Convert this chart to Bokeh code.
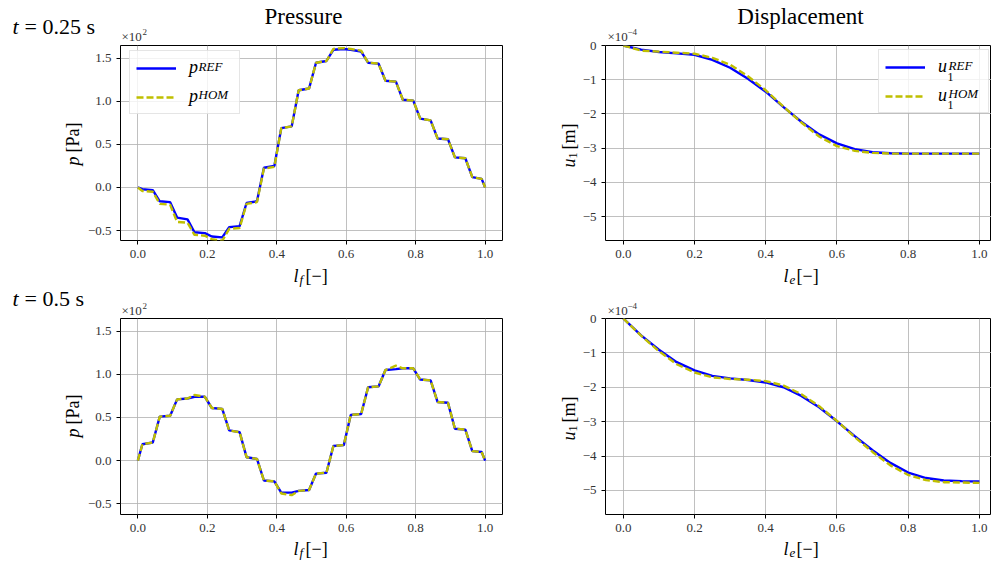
from bokeh.plotting import figure
from bokeh.models import Range1d, FixedTicker, Legend, LegendItem, GridBox
from bokeh.core.properties import value
from bokeh.embed import file_html
from bokeh.resources import INLINE
import math

SERIF = "Liberation Serif"
BLUE = "#0000ff"
YELLOW = "#bfbf00"
W, H = 991, 562

# ---------------- data ----------------
# pressure curves, value axis in units of 10^2 Pa
lf_points = [0.0, 0.013, 0.043, 0.063, 0.093, 0.113, 0.143, 0.163, 0.193, 0.213,
             0.243, 0.263, 0.293, 0.313, 0.343, 0.363, 0.393, 0.413, 0.443, 0.463,
             0.493, 0.513, 0.543, 0.563, 0.593, 0.613, 0.643, 0.663, 0.693, 0.713,
             0.743, 0.763, 0.793, 0.813, 0.843, 0.863, 0.893, 0.913, 0.943, 0.963,
             0.990, 1.0]
p_ref_t025 = [0.0, -0.02, -0.03, -0.16, -0.17, -0.35, -0.37, -0.52, -0.53, -0.57,
              -0.58, -0.46, -0.45, -0.18, -0.16, 0.23, 0.25, 0.69, 0.71, 1.13,
              1.15, 1.45, 1.47, 1.60, 1.61, 1.60, 1.58, 1.45, 1.44, 1.24,
              1.23, 1.02, 1.01, 0.80, 0.78, 0.57, 0.56, 0.35, 0.34, 0.12,
              0.10, 0.0]
p_hom_t025 = [0.0, -0.04, -0.05, -0.19, -0.20, -0.40, -0.41, -0.55, -0.56, -0.60,
              -0.62, -0.48, -0.47, -0.19, -0.17, 0.22, 0.24, 0.69, 0.71, 1.13,
              1.15, 1.45, 1.47, 1.61, 1.62, 1.61, 1.59, 1.45, 1.44, 1.24,
              1.23, 1.02, 1.01, 0.80, 0.78, 0.57, 0.56, 0.35, 0.34, 0.12,
              0.10, 0.0]
p_ref_t05 = [0.0, 0.19, 0.21, 0.51, 0.52, 0.71, 0.72, 0.74, 0.74, 0.61,
             0.60, 0.35, 0.33, 0.04, 0.02, -0.23, -0.24, -0.37, -0.37, -0.35,
             -0.34, -0.15, -0.14, 0.17, 0.18, 0.53, 0.54, 0.85, 0.86, 1.05,
             1.06, 1.07, 1.07, 0.94, 0.93, 0.68, 0.67, 0.37, 0.36, 0.11,
             0.10, 0.0]
p_hom_t05 = [0.0, 0.19, 0.21, 0.51, 0.52, 0.71, 0.72, 0.76, 0.74, 0.61,
             0.60, 0.35, 0.33, 0.04, 0.02, -0.23, -0.24, -0.38, -0.40, -0.35,
             -0.34, -0.15, -0.14, 0.17, 0.18, 0.53, 0.54, 0.85, 0.86, 1.05,
             1.10, 1.07, 1.07, 0.94, 0.93, 0.68, 0.67, 0.37, 0.36, 0.11,
             0.10, 0.0]

# displacement curves, value axis in units of 10^-4 m
le_points = [0.0, 0.05, 0.10, 0.15, 0.20, 0.25, 0.30, 0.35, 0.40, 0.45, 0.50,
             0.55, 0.60, 0.65, 0.70, 0.75, 0.80, 0.85, 0.90, 0.95, 1.0]
u_ref_t025 = [0.0, -0.12, -0.19, -0.23, -0.27, -0.42, -0.65, -0.97, -1.35, -1.80,
              -2.23, -2.60, -2.86, -3.03, -3.12, -3.15, -3.16, -3.16, -3.16, -3.16, -3.16]
u_hom_t025 = [0.0, -0.15, -0.18, -0.21, -0.24, -0.36, -0.56, -0.90, -1.31, -1.79,
              -2.25, -2.66, -2.94, -3.08, -3.14, -3.16, -3.16, -3.16, -3.16, -3.16, -3.16]
u_ref_t05 = [0.0, -0.49, -0.91, -1.27, -1.51, -1.67, -1.74, -1.79, -1.86, -2.00,
             -2.25, -2.58, -2.99, -3.42, -3.83, -4.20, -4.48, -4.64, -4.71, -4.73, -4.74]
u_hom_t05 = [0.0, -0.50, -0.95, -1.33, -1.57, -1.71, -1.76, -1.78, -1.82, -1.95,
             -2.20, -2.55, -2.98, -3.45, -3.88, -4.27, -4.55, -4.70, -4.76, -4.77, -4.78]

x_ticks = [0.0, 0.2, 0.4, 0.6, 0.8, 1.0]
x_tick_labels = ["0.0", "0.2", "0.4", "0.6", "0.8", "1.0"]
p_ticks = [-0.5, 0.0, 0.5, 1.0, 1.5]
p_tick_labels = ["\u22120.5", "0.0", "0.5", "1.0", "1.5"]
u_ticks = [-5.0, -4.0, -3.0, -2.0, -1.0, 0.0]
u_tick_labels = ["\u22125", "\u22124", "\u22123", "\u22122", "\u22121", "0"]


def make_fig(w, h, bl, br, bt, bb, xr, yr, yticks, ylabels):
    f = figure(width=w, height=h, x_range=Range1d(*xr), y_range=Range1d(*yr),
               output_backend="svg", toolbar_location=None,
               min_border_left=bl, min_border_right=br,
               min_border_top=bt, min_border_bottom=bb)
    f.background_fill_color = "white"
    f.border_fill_color = "white"
    f.outline_line_color = "black"
    f.outline_line_width = 1
    f.xaxis.ticker = FixedTicker(ticks=x_ticks)
    f.xgrid.ticker = FixedTicker(ticks=x_ticks)
    f.xaxis.major_label_overrides = dict(zip(x_ticks, x_tick_labels))
    f.yaxis.ticker = FixedTicker(ticks=yticks)
    f.ygrid.ticker = FixedTicker(ticks=yticks)
    f.yaxis.major_label_overrides = dict(zip(yticks, ylabels))
    for ax in (f.xaxis[0], f.yaxis[0]):
        ax.axis_line_color = None
        ax.major_tick_line_color = "black"
        ax.major_tick_out = 4
        ax.major_tick_in = 0
        ax.minor_tick_line_color = None
        ax.major_label_text_font = SERIF
        ax.major_label_text_font_size = "13px"
        ax.major_label_text_color = "#333333"
        ax.major_label_standoff = 5
    for g in (f.xgrid[0], f.ygrid[0]):
        g.grid_line_color = "#b0b0b0"
        g.grid_line_alpha = 0.8
        g.grid_line_width = 1
    return f


def add_legend(f, loc, label, label_width):
    items = [LegendItem(label=label, renderers=[f.renderers[0]]),
             LegendItem(label=label, renderers=[f.renderers[1]])]
    leg = Legend(items=items, location=loc, glyph_width=40, glyph_height=20,
                 label_width=label_width, label_height=20, label_standoff=13,
                 padding=6, spacing=8, margin=0,
                 border_line_color="#cccccc", border_line_width=1,
                 background_fill_color="white", background_fill_alpha=0.8,
                 label_text_font=SERIF, label_text_font_style="italic",
                 label_text_font_size="18px", label_text_color="black")
    f.add_layout(leg)


# ---------------- plot panels ----------------
tl = make_fig(520, 280, 120, 18, 44, 40, (-0.05, 1.05), (-0.616, 1.65), p_ticks, p_tick_labels)
tr = make_fig(471, 280, 85, 0, 45, 39, (-0.05, 1.034), (-5.7, 0.0), u_ticks, u_tick_labels)
bl = make_fig(520, 282, 120, 18, 38, 48, (-0.05, 1.05), (-0.624, 1.647), p_ticks, p_tick_labels)
br = make_fig(471, 282, 85, 0, 38, 48, (-0.05, 1.034), (-5.7, 0.0), u_ticks, u_tick_labels)

for f, xs, yr, yh in ((tl, lf_points, p_ref_t025, p_hom_t025),
                      (bl, lf_points, p_ref_t05, p_hom_t05),
                      (tr, le_points, u_ref_t025, u_hom_t025),
                      (br, le_points, u_ref_t05, u_hom_t05)):
    f.line(xs, yr, line_color=BLUE, line_width=2.4)
    f.line(xs, yh, line_color=YELLOW, line_width=2.4, line_dash="7 3")

add_legend(tl, (9, 126), "p", 44)
add_legend(tr, (273, 127), "u", 44)

# ---------------- transparent text layer over the whole page ----------------
ov = figure(width=W, height=H, x_range=Range1d(0, W), y_range=Range1d(0, H),
            output_backend="svg", toolbar_location=None,
            x_axis_location=None, y_axis_location=None,
            min_border=0, min_border_left=0, min_border_right=0,
            min_border_top=0, min_border_bottom=0)
ov.frame_align = False
ov.outline_line_color = None
ov.background_fill_alpha = 0
ov.border_fill_alpha = 0
ov.xgrid.visible = False
ov.ygrid.visible = False

SHIFT = 5  # baseline correction of the svg text placement


def txt(x, y, s, size, style="normal", rot=False, align="left", color="black"):
    if rot:
        x = x - SHIFT
    else:
        y = y - SHIFT
    ov.text(x=[x], y=[H - y], text=[s], angle=(math.pi / 2 if rot else 0.0),
            text_font=value(SERIF), text_font_size=value(f"{size}px"),
            text_font_style=style, text_align=align,
            text_baseline="alphabetic", text_color=color)


OFF = "#333333"
# titles and time labels
txt(303, 21, "Pressure", 23, align="center")
txt(800, 21, "Displacement", 23, align="center")
txt(12, 31, "t", 22, style="italic")
txt(24, 31, "= 0.25 s", 22)
txt(12, 303, "t", 22, style="italic")
txt(24, 303, "= 0.5 s", 22)
# offset texts
for yb in (41, 315):
    txt(121, yb, "\u00d710", 13, color=OFF)
    txt(142, yb - 5, "2", 9, color=OFF)
    txt(607, yb, "\u00d710", 13, color=OFF)
    txt(627, yb - 5, "\u22124", 9, color=OFF)
# y axis labels
for yc in (145, 417):
    txt(77, yc + 20, "p", 18, style="italic", rot=True)
    txt(77, yc + 7, "[Pa]", 18, rot=True)
for yc in (146, 419):
    txt(573, yc + 21, "u", 18, style="italic", rot=True)
    txt(577, yc + 12, "1", 12, rot=True)
    txt(573, yc + 3, "[m]", 18, rot=True)
# x axis labels
for yb in (280, 553):
    txt(293, yb, "l", 18, style="italic")
    txt(299, yb + 4, "f", 13, style="italic")
    txt(305, yb, "[\u2212]", 18)
    txt(783, yb, "l", 18, style="italic")
    txt(789, yb + 4, "e", 13, style="italic")
    txt(796, yb, "[\u2212]", 18)
# legend superscripts / subscripts
txt(198, 71, "REF", 13, style="italic")
txt(198, 99, "HOM", 13, style="italic")
txt(948, 70, "REF", 13, style="italic")
txt(947, 81, "1", 12)
txt(948, 98, "HOM", 13, style="italic")
txt(947, 109, "1", 12)

layout = GridBox(children=[(tl, 0, 0), (tr, 0, 1), (bl, 1, 0), (br, 1, 1),
                           (ov, 0, 0, 2, 2)], spacing=0)
open("out.html", "w").write(file_html(layout, INLINE))
